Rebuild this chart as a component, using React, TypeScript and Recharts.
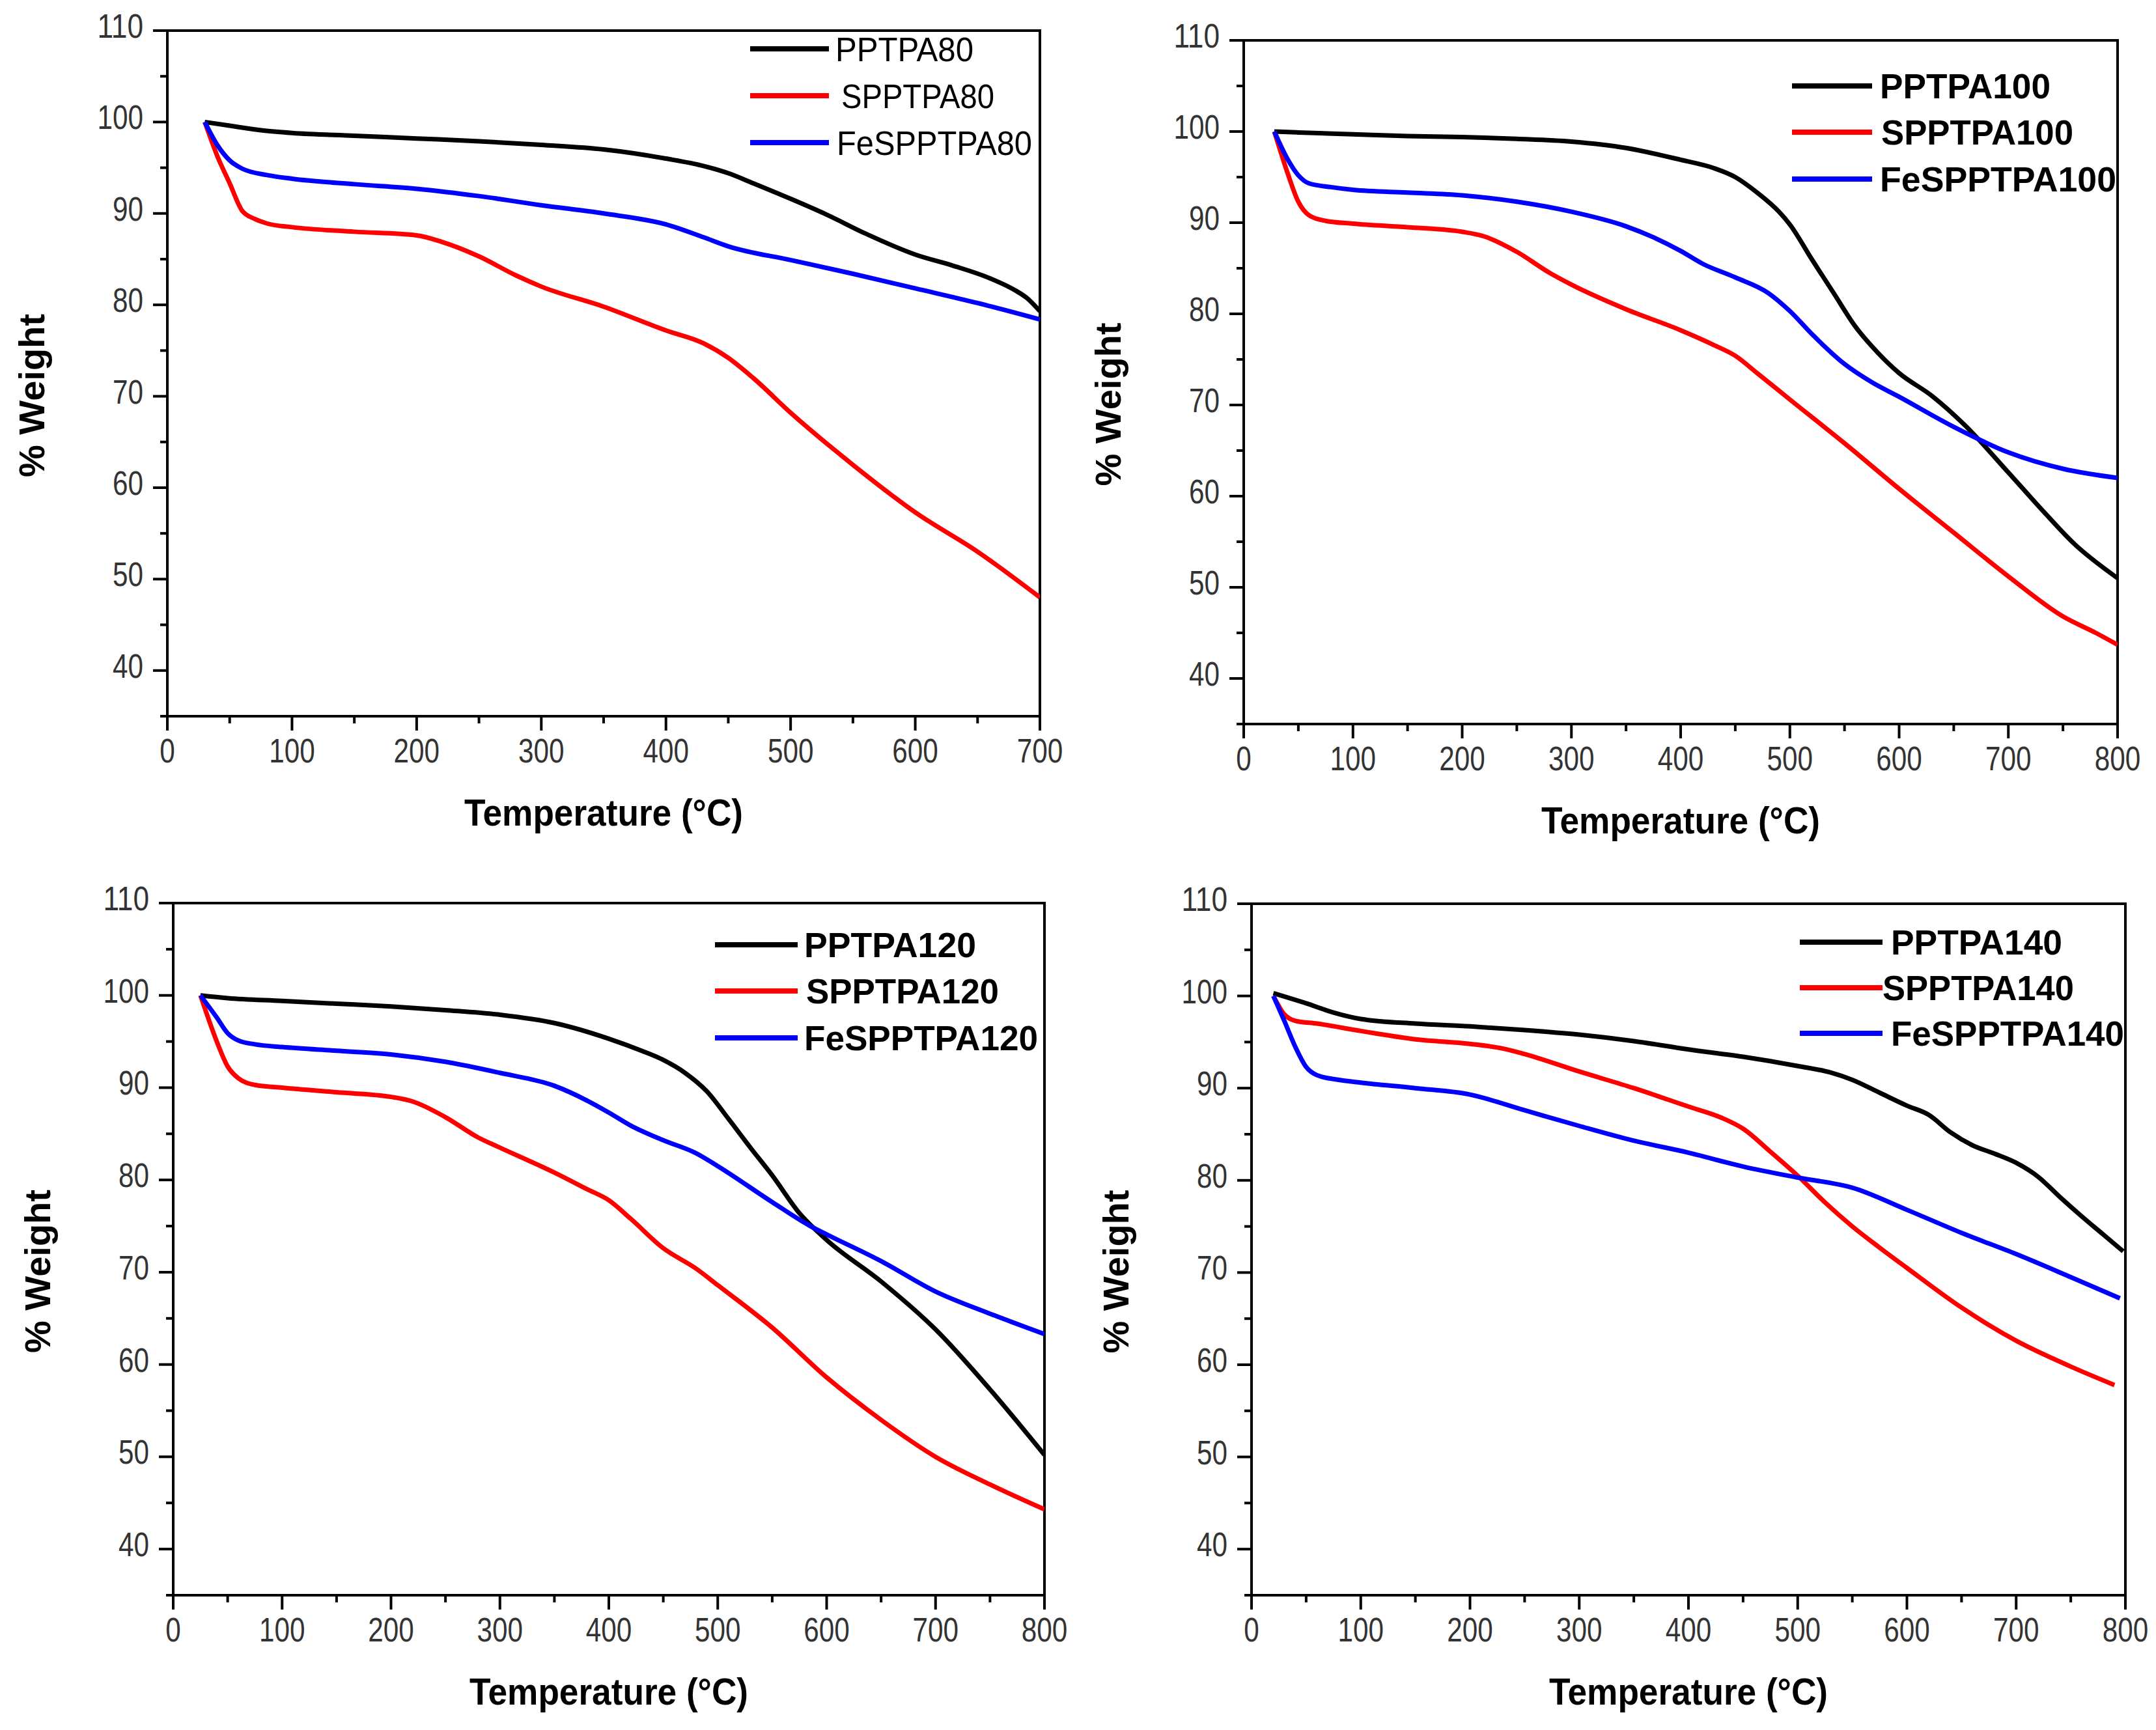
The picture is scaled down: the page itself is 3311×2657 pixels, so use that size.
import React from 'react';
import { LineChart, Line, XAxis, YAxis, ReferenceArea, Legend, Label } from 'recharts';

// ---------- data (temperature °C / % weight) ----------
const T80_PP = [30, 50, 75, 100, 150, 200, 250, 300, 350, 400, 430, 450, 470, 500, 530, 560, 600, 630, 660, 680, 690, 700];
const W80_PP = [100, 99.6, 99.1, 98.8, 98.5, 98.2, 97.9, 97.5, 97.0, 96.0, 95.2, 94.4, 93.3, 91.6, 89.8, 87.8, 85.5, 84.3, 82.9, 81.6, 80.7, 79.3];
const T80_S = [30, 40, 50, 60, 70, 80, 100, 150, 200, 220, 250, 280, 300, 350, 400, 430, 450, 470, 500, 550, 600, 650, 700];
const W80_S = [100, 96.3, 93.3, 90.3, 89.4, 88.9, 88.5, 88.0, 87.6, 86.9, 85.3, 83.2, 82.0, 79.8, 77.2, 75.8, 74.2, 72.0, 68.2, 62.5, 57.3, 53.0, 48.0];
const T80_FE = [30, 40, 50, 60, 80, 100, 150, 200, 250, 300, 350, 400, 430, 450, 500, 550, 600, 650, 700];
const W80_FE = [100, 97.5, 95.8, 94.9, 94.2, 93.8, 93.2, 92.7, 91.9, 90.9, 90.0, 88.8, 87.4, 86.4, 84.9, 83.4, 81.8, 80.2, 78.4];

const T100_PP = [28, 50, 100, 150, 200, 250, 300, 350, 400, 430, 450, 470, 490, 500, 520, 540, 560, 580, 600, 630, 660, 700, 730, 760, 800];
const W100_PP = [100, 99.9, 99.7, 99.5, 99.4, 99.2, 98.9, 98.2, 96.9, 96.0, 95.0, 93.3, 91.2, 89.8, 86.0, 82.3, 78.6, 75.8, 73.5, 71.0, 67.8, 62.6, 58.6, 54.8, 51.0];
const T100_S = [28, 40, 50, 60, 75, 100, 150, 200, 220, 250, 280, 300, 350, 400, 430, 450, 470, 500, 550, 600, 650, 700, 750, 780, 800];
const W100_S = [100, 95.5, 92.3, 90.8, 90.2, 89.9, 89.5, 89.0, 88.5, 86.8, 84.5, 83.2, 80.5, 78.2, 76.6, 75.4, 73.5, 70.6, 65.8, 60.8, 56.0, 51.2, 46.8, 45.0, 43.7];
const T100_FE = [28, 40, 50, 60, 80, 100, 150, 200, 250, 300, 350, 375, 400, 420, 450, 480, 500, 520, 550, 575, 600, 650, 700, 750, 800];
const W100_FE = [100, 97.0, 95.2, 94.3, 93.9, 93.6, 93.3, 93.0, 92.3, 91.2, 89.6, 88.4, 86.9, 85.5, 84.0, 82.3, 80.3, 77.8, 74.5, 72.5, 70.9, 67.6, 64.8, 63.0, 62.0];

const T120_PP = [25, 50, 100, 150, 200, 250, 300, 350, 400, 430, 450, 470, 490, 510, 530, 550, 575, 600, 650, 700, 750, 800];
const W120_PP = [100, 99.7, 99.4, 99.1, 98.8, 98.4, 97.9, 97.0, 95.3, 94.0, 93.0, 91.6, 89.6, 86.6, 83.5, 80.5, 76.4, 73.5, 69.0, 63.8, 57.3, 50.2];
const T120_S = [25, 40, 50, 60, 75, 100, 150, 200, 220, 250, 280, 300, 350, 380, 400, 420, 450, 480, 500, 550, 600, 650, 700, 750, 800];
const W120_S = [100, 95.0, 92.3, 91.0, 90.3, 90.0, 89.5, 89.0, 88.5, 86.8, 84.6, 83.5, 80.8, 79.0, 77.8, 75.8, 72.6, 70.4, 68.6, 64.0, 58.6, 54.0, 50.0, 47.0, 44.3];
const T120_FE = [25, 40, 50, 60, 75, 100, 150, 200, 250, 300, 350, 380, 400, 420, 450, 480, 500, 550, 585, 600, 650, 700, 750, 800];
const W120_FE = [100, 97.6, 95.9, 95.1, 94.7, 94.4, 94.0, 93.6, 92.8, 91.6, 90.2, 88.6, 87.3, 85.9, 84.3, 82.9, 81.5, 77.6, 75.0, 74.1, 71.2, 67.9, 65.5, 63.3];

const T140_PP = [20, 50, 75, 100, 150, 200, 250, 300, 350, 400, 450, 500, 530, 550, 575, 600, 620, 640, 660, 680, 700, 720, 740, 760, 780, 798];
const W140_PP = [100.3, 99.2, 98.2, 97.5, 97.0, 96.7, 96.3, 95.8, 95.1, 94.2, 93.4, 92.4, 91.7, 90.9, 89.5, 88.1, 87.1, 85.2, 83.8, 82.9, 81.9, 80.4, 78.2, 76.1, 74.1, 72.3];
const T140_S = [20, 30, 40, 60, 100, 150, 200, 230, 250, 300, 350, 400, 430, 450, 475, 500, 525, 550, 575, 600, 650, 700, 750, 790];
const W140_S = [100, 98.0, 97.3, 97.0, 96.2, 95.3, 94.8, 94.3, 93.7, 91.8, 90.0, 88.0, 86.8, 85.6, 83.1, 80.5, 77.6, 75.0, 72.7, 70.5, 66.2, 62.6, 59.8, 57.8];
const T140_FE = [20, 30, 40, 50, 60, 80, 100, 150, 200, 250, 300, 350, 400, 450, 500, 550, 600, 650, 700, 750, 795];
const W140_FE = [100, 97.3, 94.5, 92.3, 91.4, 90.9, 90.6, 90.0, 89.3, 87.6, 85.9, 84.3, 83.0, 81.5, 80.3, 79.2, 76.8, 74.3, 72.0, 69.5, 67.2];

const Y_TICKS = [35, 40, 45, 50, 55, 60, 65, 70, 75, 80, 85, 90, 95, 100, 105, 110];
const X_TICKS_700 = [0, 50, 100, 150, 200, 250, 300, 350, 400, 450, 500, 550, 600, 650, 700];
const X_TICKS_800 = [0, 50, 100, 150, 200, 250, 300, 350, 400, 450, 500, 550, 600, 650, 700, 750, 800];

const X_TITLE = 'Temperature (°C)';
const Y_TITLE = '% Weight';

const COLORS = ['#000000', '#ff0000', '#0000ff'];

type Pt = { t: number; w: number };
const zip = (ts: number[], ws: number[]): Pt[] => ts.map((t, i) => ({ t, w: ws[i] }));

const FONT = "'Liberation Sans', Arial, Helvetica, sans-serif";

// ---------- layout ----------
type Panel = {
  q: [number, number, number, number];
  plot: [number, number, number, number]; // L T R B (page px)
  xMax: number;
  xTicks: number[];
  series: { name: string; data: Pt[] }[];
  legend: { lx1: number; lx2: number; rows: number[]; tx: number[]; tw: number[]; bold: boolean; fs: number };
};

const PANELS: Panel[] = [
  {
    q: [0, 0, 1656, 1328],
    plot: [257, 47, 1597, 1100],
    xMax: 700,
    xTicks: X_TICKS_700,
    series: [
      { name: 'PPTPA80', data: zip(T80_PP, W80_PP) },
      { name: 'SPPTPA80', data: zip(T80_S, W80_S) },
      { name: 'FeSPPTPA80', data: zip(T80_FE, W80_FE) },
    ],
    legend: { lx1: 1152, lx2: 1273, rows: [75, 147, 219], tx: [1283, 1292, 1285], tw: [212, 235, 300], bold: false, fs: 51 },
  },
  {
    q: [1656, 0, 1655, 1328],
    plot: [1910, 62, 3252, 1112],
    xMax: 800,
    xTicks: X_TICKS_800,
    series: [
      { name: 'PPTPA100', data: zip(T100_PP, W100_PP) },
      { name: 'SPPTPA100', data: zip(T100_S, W100_S) },
      { name: 'FeSPPTPA100', data: zip(T100_FE, W100_FE) },
    ],
    legend: { lx1: 2752, lx2: 2875, rows: [132, 203, 275], tx: [2887, 2889, 2887], tw: [262, 295, 363], bold: true, fs: 53 },
  },
  {
    q: [0, 1328, 1656, 1329],
    plot: [266, 1387, 1604, 2450],
    xMax: 800,
    xTicks: X_TICKS_800,
    series: [
      { name: 'PPTPA120', data: zip(T120_PP, W120_PP) },
      { name: 'SPPTPA120', data: zip(T120_S, W120_S) },
      { name: 'FeSPPTPA120', data: zip(T120_FE, W120_FE) },
    ],
    legend: { lx1: 1098, lx2: 1225, rows: [1451, 1522, 1594], tx: [1235, 1238, 1235], tw: [264, 296, 359], bold: true, fs: 53 },
  },
  {
    q: [1656, 1328, 1655, 1329],
    plot: [1922, 1388, 3264, 2450],
    xMax: 800,
    xTicks: X_TICKS_800,
    series: [
      { name: 'PPTPA140', data: zip(T140_PP, W140_PP) },
      { name: 'SPPTPA140', data: zip(T140_S, W140_S) },
      { name: 'FeSPPTPA140', data: zip(T140_FE, W140_FE) },
    ],
    legend: { lx1: 2764, lx2: 2891, rows: [1447, 1517, 1587], tx: [2904, 2891, 2904], tw: [263, 294, 358], bold: true, fs: 53 },
  },
];

const XTick = (p: any) => {
  const { x, y, payload } = p;
  const v = payload.value as number;
  const major = v % 100 === 0;
  const s = String(v);
  return (
    <g>
      <line x1={x} x2={x} y1={y} y2={y + (major ? 22 : 11)} stroke="#000" strokeWidth={4} />
      {major && (
        <text x={x} y={y + 71} textAnchor="middle" fontFamily={FONT} fontSize={51} fill="#333"
          textLength={23.5 * s.length} lengthAdjust="spacingAndGlyphs">{s}</text>
      )}
    </g>
  );
};

const YTick = (p: any) => {
  const { x, y, payload } = p;
  const v = payload.value as number;
  const major = v % 10 === 0;
  const s = String(v);
  return (
    <g>
      <line x1={x} x2={x - (major ? 22 : 11)} y1={y} y2={y} stroke="#000" strokeWidth={4} />
      {major && (
        <text x={x - 37} y={y + 11} textAnchor="end" fontFamily={FONT} fontSize={51} fill="#333"
          textLength={23.5 * s.length} lengthAdjust="spacingAndGlyphs">{s}</text>
      )}
    </g>
  );
};

const PanelChart = ({ panel }: { panel: Panel }) => {
  const [qx, qy, qw, qh] = panel.q;
  const [L, T, R, B] = panel.plot;
  const margin = { left: L - qx - 150, top: T - qy, right: qx + qw - R, bottom: qy + qh - B - 150 };
  const xcx = (L + R) / 2 - qx;
  const xty = B - qy + 168;
  const ycx = L - 209 - qx;
  const ycy = (T + B) / 2 + 34 - qy;
  const lg = panel.legend;
  const names = panel.series.map((s) => s.name);

  const renderLegend = (props: any) => {
    const payload: any[] = props.payload || [];
    return (
      <svg width={qw} height={qh} style={{ display: 'block', overflow: 'visible' }}>
        {names.map((n, i) => {
          const item = payload.find((p) => p.value === n);
          const color = (item && item.color) || COLORS[i];
          const ry = lg.rows[i] - qy;
          return (
            <g key={n}>
              <line x1={lg.lx1 - qx} x2={lg.lx2 - qx} y1={ry} y2={ry} stroke={color} strokeWidth={8} />
              <text x={lg.tx[i] - qx} y={ry + 19} fontFamily={FONT} fontSize={lg.fs} fontWeight={lg.bold ? 'bold' : 'normal'}
                fill="#000" textLength={lg.tw[i]} lengthAdjust="spacingAndGlyphs">{n}</text>
            </g>
          );
        })}
      </svg>
    );
  };

  return (
    <div style={{ position: 'absolute', left: qx, top: qy, width: qw, height: qh }}>
      <LineChart width={qw} height={qh} margin={margin}>
        <XAxis dataKey="t" type="number" domain={[0, panel.xMax]} ticks={panel.xTicks} interval={0}
          allowDataOverflow tickSize={0} tickMargin={0} tickLine={false} tick={<XTick />}
          axisLine={{ stroke: '#000', strokeWidth: 4 }} height={150}>
          <Label content={() => (
            <text x={xcx} y={xty} textAnchor="middle" fontFamily={FONT} fontWeight="bold" fontSize={58}
              fill="#000" textLength={428} lengthAdjust="spacingAndGlyphs">{X_TITLE}</text>
          )} />
        </XAxis>
        <YAxis dataKey="w" type="number" domain={[35, 110]} ticks={Y_TICKS} interval={0}
          allowDataOverflow tickSize={0} tickMargin={0} tickLine={false} tick={<YTick />}
          axisLine={{ stroke: '#000', strokeWidth: 4 }} width={150}>
          <Label content={() => (
            <text x={ycx} y={ycy} transform={`rotate(-90, ${ycx}, ${ycy})`} textAnchor="middle"
              dominantBaseline="central" fontFamily={FONT} fontWeight="bold" fontSize={56} fill="#000">{Y_TITLE}</text>
          )} />
        </YAxis>
        <ReferenceArea x1={0} x2={panel.xMax} y1={35} y2={110} fill="none" fillOpacity={0}
          stroke="#000" strokeWidth={4} ifOverflow="visible" />
        {panel.series.map((s, i) => (
          <Line key={s.name} data={s.data} dataKey="w" name={s.name} type="monotone" stroke={COLORS[i]}
            strokeWidth={7} dot={false} activeDot={false} isAnimationActive={false} />
        ))}
        <Legend layout="vertical" align="center" verticalAlign="middle" content={renderLegend}
          wrapperStyle={{ left: 0, top: 0, width: qw, height: qh, pointerEvents: 'none' }} />
      </LineChart>
    </div>
  );
}

export default function App() {
  return (
    <div style={{ position: 'absolute', left: 0, top: 0, width: 3311, height: 2657, background: '#fff', overflow: 'hidden' }}>
      {PANELS.map((p, i) => (
        <PanelChart key={i} panel={p} />
      ))}
    </div>
  );
}
